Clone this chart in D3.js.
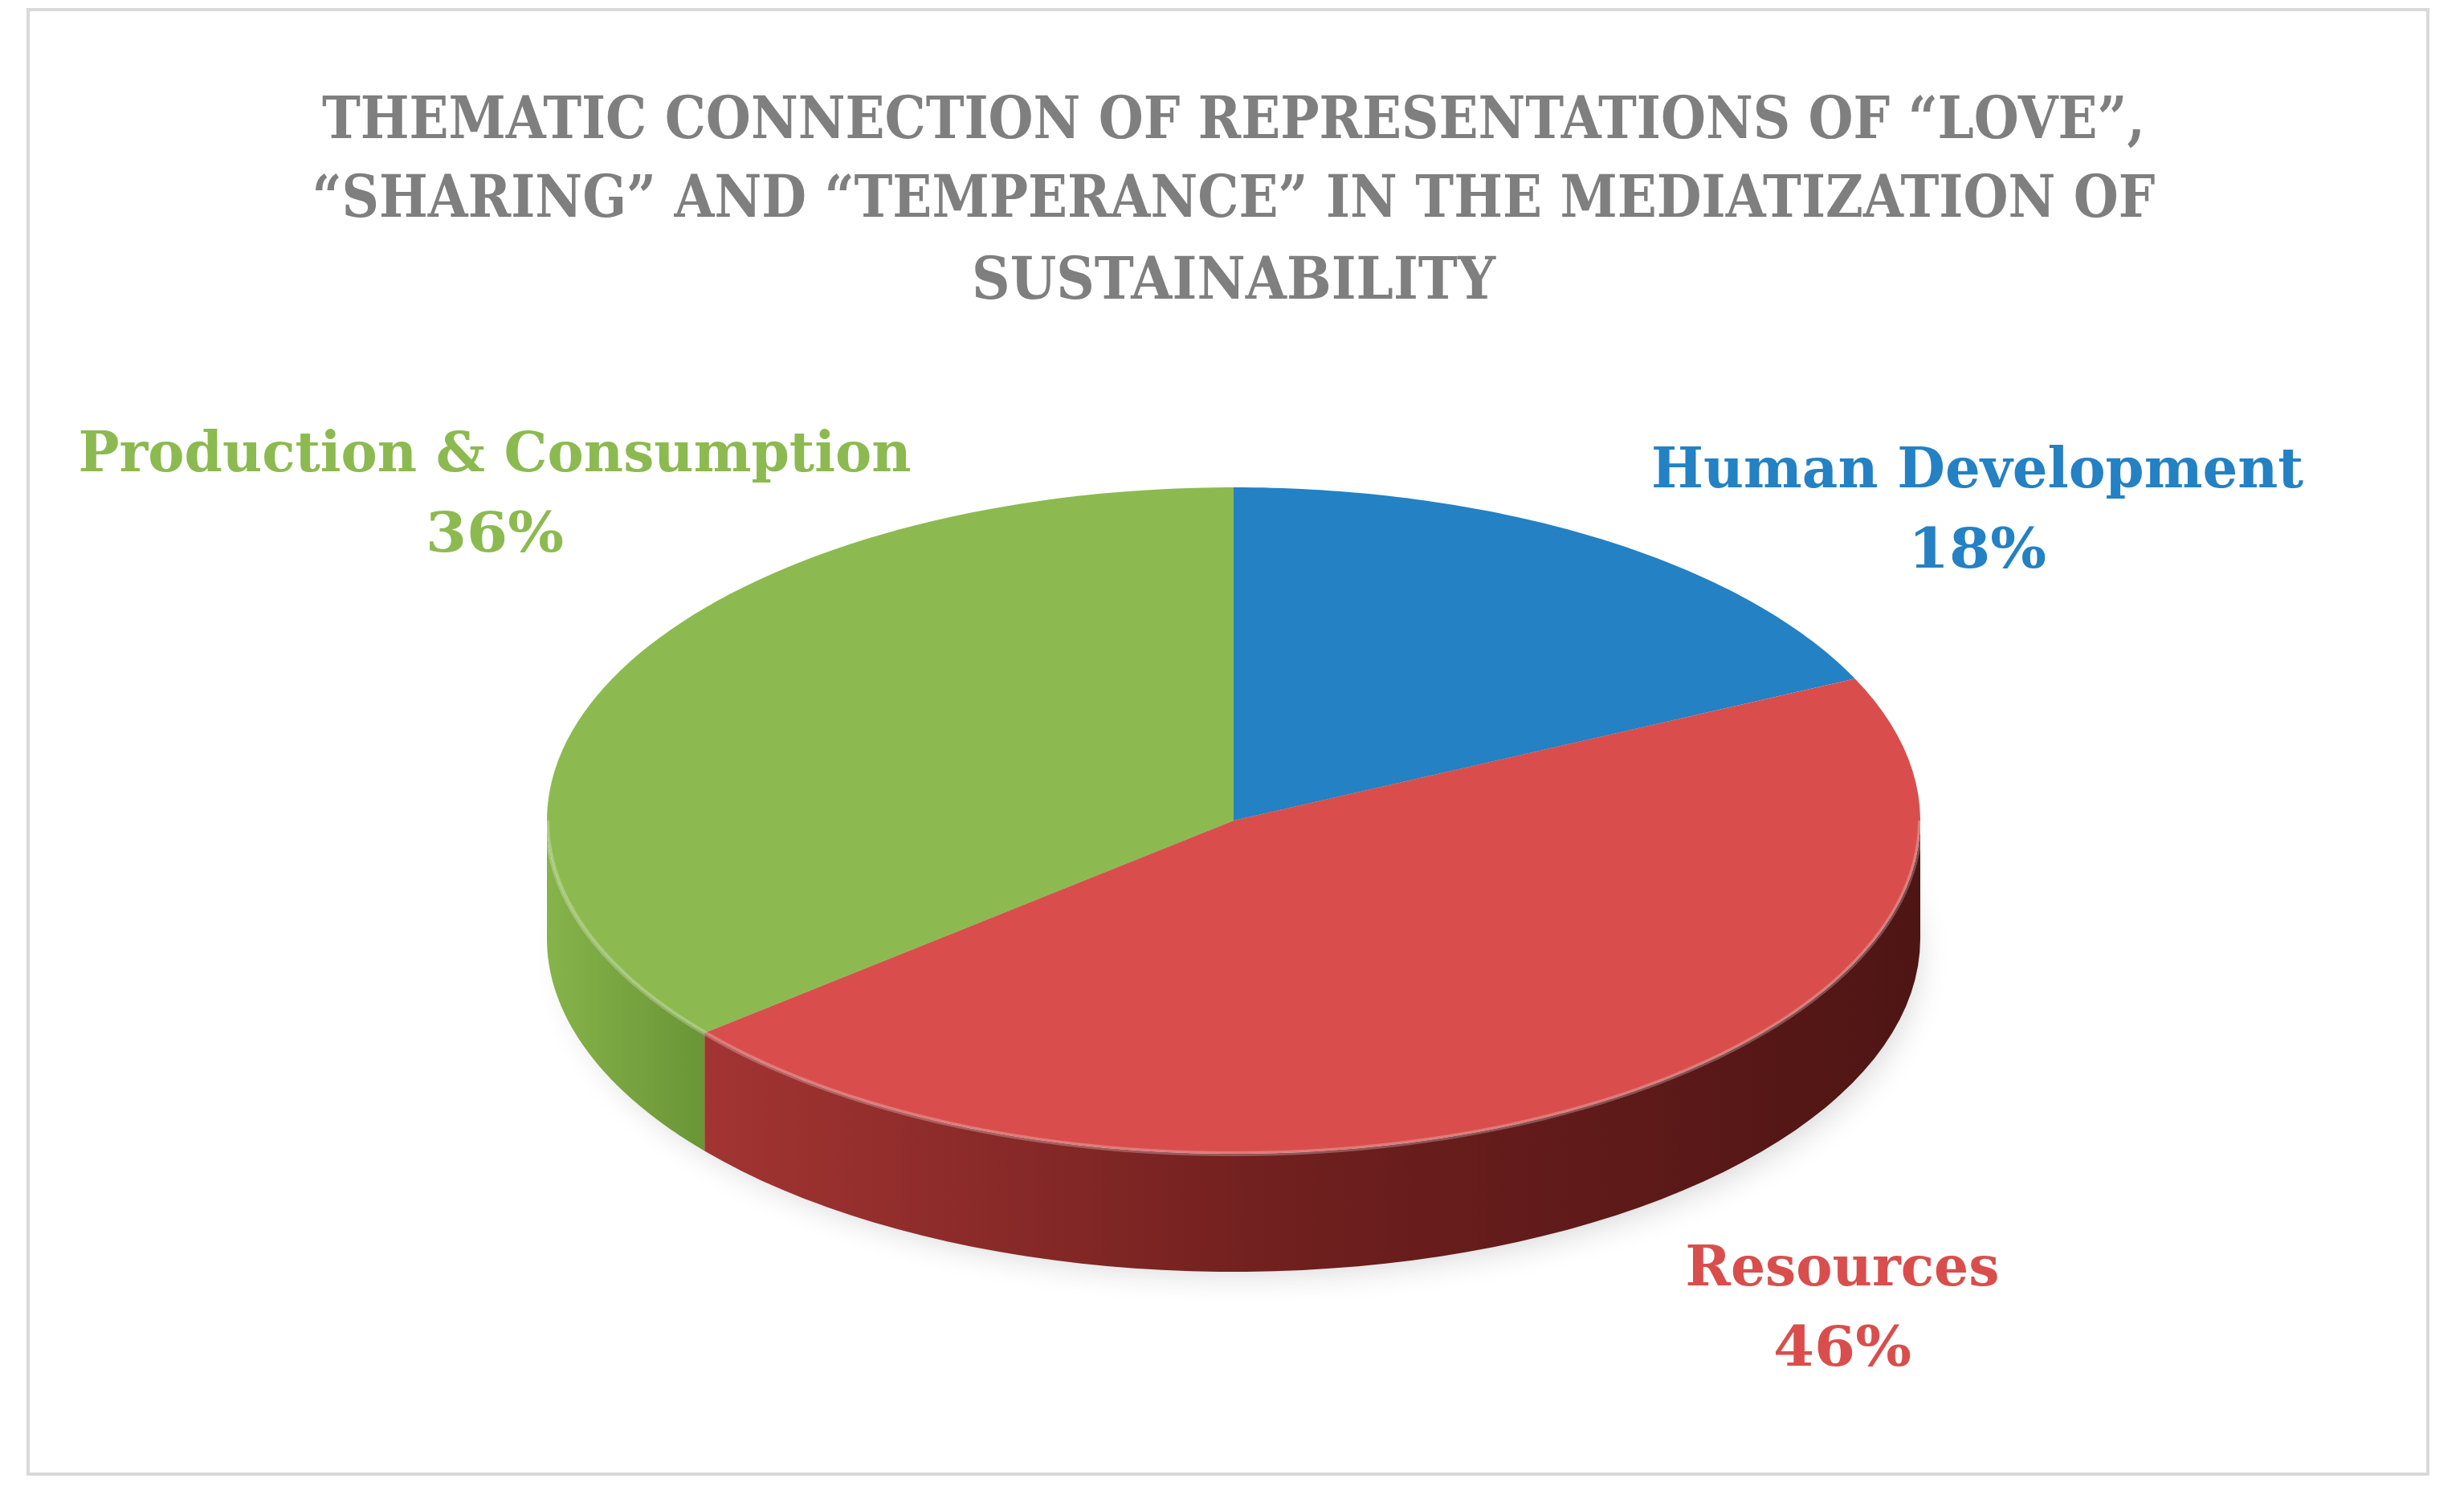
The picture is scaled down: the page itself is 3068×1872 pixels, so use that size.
<!DOCTYPE html>
<html>
<head>
<meta charset="utf-8">
<script src="https://cdn.jsdelivr.net/npm/d3@7.9.0/dist/d3.min.js"></script>
<style>
  body { margin: 0; background: #fff; }
</style>
</head>
<body>
<div id="chart"></div>
<script>
const categories = ['Human Development', 'Resources', 'Production & Consumption'];
const values = [18, 46, 36];
const colors = ['#2381c4', '#d94e4c', '#8cba50'];
const titleLines = [
    'THEMATIC CONNECTION OF REPRESENTATIONS OF \u201CLOVE\u201D,',
    '\u201CSHARING\u201D AND \u201CTEMPERANCE\u201D IN THE MEDIATIZATION OF',
    'SUSTAINABILITY'
];

const W = 3068, H = 1872;
const cx = 1536, cy = 1022, rx = 855, ry = 415, depth = 147;

const svg = d3.select('#chart').append('svg')
    .attr('width', W)
    .attr('height', H);

const defs = svg.append('defs');
const blur = defs.append('filter').attr('id', 'shadow')
    .attr('x', '-20%').attr('y', '-20%').attr('width', '140%').attr('height', '140%');
blur.append('feGaussianBlur').attr('stdDeviation', 22);

const redSide = defs.append('linearGradient').attr('id', 'redSide')
    .attr('gradientUnits', 'userSpaceOnUse')
    .attr('x1', cx - rx).attr('x2', cx + rx).attr('y1', 0).attr('y2', 0);
redSide.append('stop').attr('offset', '0%').attr('stop-color', '#b03a38');
redSide.append('stop').attr('offset', '55%').attr('stop-color', '#6e1f1e');
redSide.append('stop').attr('offset', '100%').attr('stop-color', '#4e1514');

const greenSide = defs.append('linearGradient').attr('id', 'greenSide')
    .attr('x1', 0).attr('x2', 1).attr('y1', 0).attr('y2', 0);
greenSide.append('stop').attr('offset', '0%').attr('stop-color', '#86b34a');
greenSide.append('stop').attr('offset', '100%').attr('stop-color', '#6a9536');

// frame
svg.append('rect')
    .attr('x', 35).attr('y', 12).attr('width', 2988).attr('height', 1824)
    .attr('fill', 'none').attr('stroke', '#d9d9d9').attr('stroke-width', 4);

// title
svg.selectAll('.title').data(titleLines).enter().append('text')
    .attr('x', cx)
    .attr('y', (d, i) => [172, 270, 372][i])
    .attr('text-anchor', 'middle')
    .attr('textLength', (d, i) => [2270, 2295, 652][i])
    .attr('lengthAdjust', 'spacingAndGlyphs')
    .style('font-family', '"DejaVu Serif", "Liberation Serif", serif')
    .style('font-weight', 'bold')
    .style('font-size', '72px')
    .attr('fill', '#7f7f7f')
    .text(d => d);

const pie = d3.pie().sort(null).value(d => d);
const arcs = pie(values);

const pt = (a, dy = 0) => [cx + rx * Math.sin(a), cy - ry * Math.cos(a) + dy];

function sidePath(a0, a1) {
    const n = 60, top = [], bot = [];
    for (let i = 0; i <= n; i++) {
        const a = a0 + (a1 - a0) * i / n;
        top.push(pt(a));
        bot.push(pt(a, depth));
    }
    return 'M' + top.concat(bot.reverse()).map(p => p.join(',')).join('L') + 'Z';
}

function topPath(a0, a1) {
    const n = 80, pts = [[cx, cy]];
    for (let i = 0; i <= n; i++) pts.push(pt(a0 + (a1 - a0) * i / n));
    return 'M' + pts.map(p => p.join(',')).join('L') + 'Z';
}

// shadow
svg.append('ellipse')
    .attr('cx', cx + 10).attr('cy', cy + depth + 20)
    .attr('rx', rx * 0.98).attr('ry', ry * 0.95)
    .attr('fill', '#000').attr('opacity', 0.18)
    .attr('filter', 'url(#shadow)');

// visible sides: front half (PI/2 .. 3PI/2)
const sideFill = ['#1a5f91', 'url(#redSide)', 'url(#greenSide)'];
arcs.forEach((d, i) => {
    const a0 = Math.max(d.startAngle, Math.PI / 2);
    const a1 = Math.min(d.endAngle, Math.PI * 3 / 2);
    if (a1 > a0) {
        svg.append('path').attr('d', sidePath(a0, a1)).attr('fill', sideFill[i]);
    }
});

// top faces
svg.selectAll('.slice').data(arcs).enter().append('path')
    .attr('d', d => topPath(d.startAngle, d.endAngle))
    .attr('fill', (d, i) => colors[i]);

// rim highlight
svg.append('path')
    .attr('d', () => {
        const n = 100, pts = [];
        for (let i = 0; i <= n; i++) pts.push(pt(Math.PI / 2 + Math.PI * i / n));
        return 'M' + pts.map(p => p.join(',')).join('L');
    })
    .attr('fill', 'none').attr('stroke', '#ffffff').attr('stroke-opacity', 0.25).attr('stroke-width', 6);

// labels
const labelPos = [
    { x: 2462, y: 607, w: 812 },
    { x: 2294, y: 1601, w: 391 },
    { x: 616, y: 587, w: 1037 }
];
const pctW = 172;
categories.forEach((c, i) => {
    const p = labelPos[i];
    const g = svg.append('g')
        .style('font-family', '"DejaVu Serif", "Liberation Serif", serif')
        .style('font-weight', 'bold')
        .style('font-size', '70px')
        .attr('fill', colors[i])
        .attr('text-anchor', 'middle');
    g.append('text').attr('x', p.x).attr('y', p.y)
        .attr('textLength', p.w).attr('lengthAdjust', 'spacingAndGlyphs').text(c);
    g.append('text').attr('x', p.x).attr('y', p.y + 100)
        .attr('textLength', pctW).attr('lengthAdjust', 'spacingAndGlyphs')
        .text(values[i] + '%');
});
</script>
</body>
</html>
